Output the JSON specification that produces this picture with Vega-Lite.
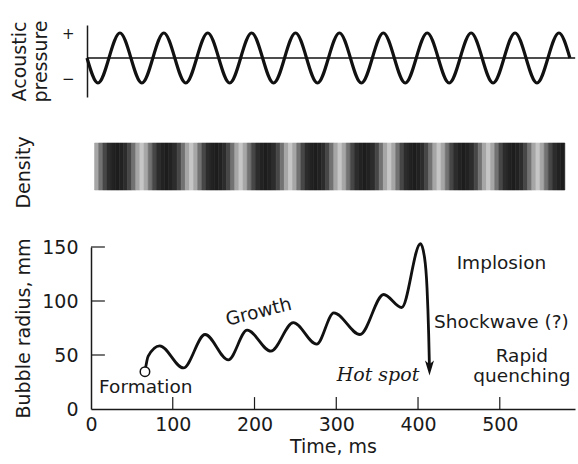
{
  "$schema": "https://vega.github.io/schema/vega-lite/v6.json",
  "background": "white",
  "padding": {"left": 10, "top": 19, "right": 0, "bottom": 0},
  "bounds": "flush",
  "spacing": 46,
  "config": {
    "view": {"stroke": null},
    "font": "DejaVu Sans",
    "axis": {
      "labelFont": "DejaVu Sans", "titleFont": "DejaVu Sans",
      "labelFontSize": 19, "titleFontSize": 19, "titleFontWeight": "normal",
      "labelColor": "#1a1a1a", "titleColor": "#1a1a1a",
      "domainColor": "#1a1a1a", "tickColor": "#1a1a1a", "grid": false
    }
  },
  "vconcat": [
    {
      "width": 484, "height": 72,
      "layer": [
        {
          "data": {"values": [
            {"t":0,"p":0},{"t":0.25,"p":-1},{"t":0.5,"p":0},{"t":0.75,"p":1},
            {"t":1,"p":0},{"t":1.25,"p":-1},{"t":1.5,"p":0},{"t":1.75,"p":1},
            {"t":2,"p":0},{"t":2.25,"p":-1},{"t":2.5,"p":0},{"t":2.75,"p":1},
            {"t":3,"p":0},{"t":3.25,"p":-1},{"t":3.5,"p":0},{"t":3.75,"p":1},
            {"t":4,"p":0},{"t":4.25,"p":-1},{"t":4.5,"p":0},{"t":4.75,"p":1},
            {"t":5,"p":0},{"t":5.25,"p":-1},{"t":5.5,"p":0},{"t":5.75,"p":1},
            {"t":6,"p":0},{"t":6.25,"p":-1},{"t":6.5,"p":0},{"t":6.75,"p":1},
            {"t":7,"p":0},{"t":7.25,"p":-1},{"t":7.5,"p":0},{"t":7.75,"p":1},
            {"t":8,"p":0},{"t":8.25,"p":-1},{"t":8.5,"p":0},{"t":8.75,"p":1},
            {"t":9,"p":0},{"t":9.25,"p":-1},{"t":9.5,"p":0},{"t":9.75,"p":1},
            {"t":10,"p":0},{"t":10.25,"p":-1},{"t":10.5,"p":0},{"t":10.75,"p":1},
            {"t":11,"p":0}
          ]},
          "mark": {"type": "line", "interpolate": "natural", "color": "#111", "strokeWidth": 3.2},
          "encoding": {
            "x": {"field": "t", "type": "quantitative", "scale": {"domain": [0.091, 11.116], "nice": false, "zero": false}, "axis": null},
            "y": {"field": "p", "type": "quantitative",
                  "scale": {"domain": [-1.56, 1.32], "nice": false, "zero": false},
                  "axis": {"title": ["Acoustic", "pressure"], "values": [1, -0.8],
                           "labelExpr": "datum.value > 0 ? '+' : '−'",
                           "labelFontSize": 15, "ticks": false, "offset": 4,
                           "labelPadding": 13, "domainWidth": 1.5, "titlePadding": 11, "titleLineHeight": 21}}
          }
        },
        {
          "data": {"values": [{"t0": 0, "t1": 11.12, "p": 0}]},
          "mark": {"type": "rule", "color": "#111", "strokeWidth": 1.3},
          "encoding": {
            "x": {"field": "t0", "type": "quantitative"},
            "x2": {"field": "t1"},
            "y": {"field": "p", "type": "quantitative"}
          }
        }
      ]
    },
    {
      "width": 484, "height": 58,
      "data": {"values": [
        {"s":-11.5,"e":-10.5,"d":0.32},{"s":-10.5,"e":-9.5,"d":0.52},{"s":-9.5,"e":-8.5,"d":0.7},{"s":-8.5,"e":-7.5,"d":0.82},
        {"s":-7.5,"e":-6.5,"d":0.87},{"s":-6.5,"e":-5.5,"d":0.89},{"s":-5.5,"e":-4.5,"d":0.87},{"s":-4.5,"e":-3.5,"d":0.82},
        {"s":-3.5,"e":-2.5,"d":0.7},{"s":-2.5,"e":-1.5,"d":0.52},{"s":-1.5,"e":-0.5,"d":0.32},
        {"s":-0.5,"e":0.5,"d":0.2},{"s":0.5,"e":1.5,"d":0.32},{"s":1.5,"e":2.5,"d":0.52},{"s":2.5,"e":3.5,"d":0.7},
        {"s":3.5,"e":4.5,"d":0.82},{"s":4.5,"e":5.5,"d":0.87},{"s":5.5,"e":6.5,"d":0.89},{"s":6.5,"e":7.5,"d":0.87},
        {"s":7.5,"e":8.5,"d":0.82},{"s":8.5,"e":9.5,"d":0.7},{"s":9.5,"e":10.5,"d":0.52},{"s":10.5,"e":11.5,"d":0.32},
        {"s":11.5,"e":12.5,"d":0.2},{"s":12.5,"e":13.5,"d":0.32},{"s":13.5,"e":14.5,"d":0.52},{"s":14.5,"e":15.5,"d":0.7},
        {"s":15.5,"e":16.5,"d":0.82},{"s":16.5,"e":17.5,"d":0.87},{"s":17.5,"e":18.5,"d":0.89},{"s":18.5,"e":19.5,"d":0.87},
        {"s":19.5,"e":20.5,"d":0.82},{"s":20.5,"e":21.5,"d":0.7},{"s":21.5,"e":22.5,"d":0.52},{"s":22.5,"e":23.5,"d":0.32},
        {"s":23.5,"e":24.5,"d":0.2},{"s":24.5,"e":25.5,"d":0.32},{"s":25.5,"e":26.5,"d":0.52},{"s":26.5,"e":27.5,"d":0.7},
        {"s":27.5,"e":28.5,"d":0.82},{"s":28.5,"e":29.5,"d":0.87},{"s":29.5,"e":30.5,"d":0.89},{"s":30.5,"e":31.5,"d":0.87},
        {"s":31.5,"e":32.5,"d":0.82},{"s":32.5,"e":33.5,"d":0.7},{"s":33.5,"e":34.5,"d":0.52},{"s":34.5,"e":35.5,"d":0.32},
        {"s":35.5,"e":36.5,"d":0.2},{"s":36.5,"e":37.5,"d":0.32},{"s":37.5,"e":38.5,"d":0.52},{"s":38.5,"e":39.5,"d":0.7},
        {"s":39.5,"e":40.5,"d":0.82},{"s":40.5,"e":41.5,"d":0.87},{"s":41.5,"e":42.5,"d":0.89},{"s":42.5,"e":43.5,"d":0.87},
        {"s":43.5,"e":44.5,"d":0.82},{"s":44.5,"e":45.5,"d":0.7},{"s":45.5,"e":46.5,"d":0.52},{"s":46.5,"e":47.5,"d":0.32},
        {"s":47.5,"e":48.5,"d":0.2},{"s":48.5,"e":49.5,"d":0.32},{"s":49.5,"e":50.5,"d":0.52},{"s":50.5,"e":51.5,"d":0.7},
        {"s":51.5,"e":52.5,"d":0.82},{"s":52.5,"e":53.5,"d":0.87},{"s":53.5,"e":54.5,"d":0.89},{"s":54.5,"e":55.5,"d":0.87},
        {"s":55.5,"e":56.5,"d":0.82},{"s":56.5,"e":57.5,"d":0.7},{"s":57.5,"e":58.5,"d":0.52},{"s":58.5,"e":59.5,"d":0.32},
        {"s":59.5,"e":60.5,"d":0.2},{"s":60.5,"e":61.5,"d":0.32},{"s":61.5,"e":62.5,"d":0.52},{"s":62.5,"e":63.5,"d":0.7},
        {"s":63.5,"e":64.5,"d":0.82},{"s":64.5,"e":65.5,"d":0.87},{"s":65.5,"e":66.5,"d":0.89},{"s":66.5,"e":67.5,"d":0.87},
        {"s":67.5,"e":68.5,"d":0.82},{"s":68.5,"e":69.5,"d":0.7},{"s":69.5,"e":70.5,"d":0.52},{"s":70.5,"e":71.5,"d":0.32},
        {"s":71.5,"e":72.5,"d":0.2},{"s":72.5,"e":73.5,"d":0.32},{"s":73.5,"e":74.5,"d":0.52},{"s":74.5,"e":75.5,"d":0.7},
        {"s":75.5,"e":76.5,"d":0.82},{"s":76.5,"e":77.5,"d":0.87},{"s":77.5,"e":78.5,"d":0.89},{"s":78.5,"e":79.5,"d":0.87},
        {"s":79.5,"e":80.5,"d":0.82},{"s":80.5,"e":81.5,"d":0.7},{"s":81.5,"e":82.5,"d":0.52},{"s":82.5,"e":83.5,"d":0.32},
        {"s":83.5,"e":84.5,"d":0.2},{"s":84.5,"e":85.5,"d":0.32},{"s":85.5,"e":86.5,"d":0.52},{"s":86.5,"e":87.5,"d":0.7},
        {"s":87.5,"e":88.5,"d":0.82},{"s":88.5,"e":89.5,"d":0.87},{"s":89.5,"e":90.5,"d":0.89},{"s":90.5,"e":91.5,"d":0.87},
        {"s":91.5,"e":92.5,"d":0.82},{"s":92.5,"e":93.5,"d":0.7},{"s":93.5,"e":94.5,"d":0.52},{"s":94.5,"e":95.5,"d":0.32},
        {"s":95.5,"e":96.5,"d":0.2},{"s":96.5,"e":97.5,"d":0.32},{"s":97.5,"e":98.5,"d":0.52},{"s":98.5,"e":99.5,"d":0.7},
        {"s":99.5,"e":100.5,"d":0.82},{"s":100.5,"e":101.5,"d":0.87},{"s":101.5,"e":102.5,"d":0.89}
      ]},
      "mark": {"type": "rect", "strokeWidth": 0.6},
      "encoding": {
        "x": {"field": "s", "type": "quantitative", "scale": {"domain": [-12.36, 104.97], "nice": false, "zero": false}, "axis": null},
        "x2": {"field": "e"},
        "y": {"datum": "band", "type": "nominal",
              "scale": {"paddingInner": 0, "paddingOuter": 0.117, "align": 0},
              "axis": {"title": "Density", "labels": false, "ticks": false, "domain": false, "titlePadding": 58}},
        "color": {"field": "d", "type": "quantitative", "scale": {"domain": [0, 1], "range": ["#ffffff", "#000000"]}, "legend": null},
        "stroke": {"field": "d", "type": "quantitative", "scale": {"domain": [0, 1], "range": ["#ffffff", "#000000"]}, "legend": null}
      }
    },
    {
      "width": 484, "height": 162,
      "layer": [
        {
          "data": {"values": [
            {"t":66,"r":34.5},{"t":70,"r":49},{"t":84,"r":58.5},{"t":113,"r":38},{"t":139.5,"r":69},
            {"t":168,"r":45.5},{"t":191,"r":73},{"t":220,"r":53.5},{"t":247.5,"r":80},{"t":276,"r":60},
            {"t":297,"r":89},{"t":329,"r":69},{"t":358,"r":106},{"t":380,"r":94},{"t":403,"r":153},
            {"t":408,"r":140},{"t":411,"r":112},{"t":413,"r":70},{"t":414,"r":38}
          ]},
          "mark": {"type": "line", "interpolate": "monotone", "color": "#111", "strokeWidth": 2.8},
          "encoding": {
            "x": {"field": "t", "type": "quantitative",
                  "scale": {"domain": [0, 592], "nice": false, "zero": false},
                  "axis": {"title": "Time, ms", "values": [0, 100, 200, 300, 400, 500], "tickSize": -12, "tickOpacity": 0,
                           "labelPadding": 18, "domainWidth": 1.5, "titlePadding": 3, "labelFlush": false}},
            "y": {"field": "r", "type": "quantitative",
                  "scale": {"domain": [0, 150], "nice": false, "zero": false},
                  "axis": {"title": "Bubble radius, mm", "values": [0, 50, 100, 150], "tickSize": -13, "tickOpacity": 0,
                           "labelPadding": 26, "domainWidth": 1.5, "titlePadding": 8, "labelFlush": false}}
          }
        },
        {
          "data": {"values": [
            {"t": 100, "r": 0, "r2": 11}, {"t": 200, "r": 0, "r2": 11}, {"t": 300, "r": 0, "r2": 11},
            {"t": 400, "r": 0, "r2": 11}, {"t": 500, "r": 0, "r2": 11}
          ]},
          "mark": {"type": "rule", "color": "#1a1a1a", "strokeWidth": 1.2},
          "encoding": {
            "x": {"field": "t", "type": "quantitative"},
            "y": {"field": "r", "type": "quantitative"},
            "y2": {"field": "r2"}
          }
        },
        {
          "data": {"values": [
            {"t": 0, "t2": 17, "r": 50}, {"t": 0, "t2": 17, "r": 100}, {"t": 0, "t2": 17, "r": 150}
          ]},
          "mark": {"type": "rule", "color": "#1a1a1a", "strokeWidth": 1.2},
          "encoding": {
            "x": {"field": "t", "type": "quantitative"},
            "x2": {"field": "t2"},
            "y": {"field": "r", "type": "quantitative"}
          }
        },
        {
          "data": {"values": [{"t": 66, "r": 34.5}]},
          "mark": {"type": "point", "shape": "circle", "filled": true, "fill": "white", "stroke": "#111", "strokeWidth": 1.5, "size": 90, "opacity": 1},
          "encoding": {
            "x": {"field": "t", "type": "quantitative"},
            "y": {"field": "r", "type": "quantitative"}
          }
        },
        {
          "data": {"values": [{"t": 414, "r": 31}]},
          "mark": {"type": "point", "shape": "M-0.6,-2L0,0L0.6,-2L0,-1.5Z", "filled": true, "color": "#111", "size": 225, "opacity": 1},
          "encoding": {
            "x": {"field": "t", "type": "quantitative"},
            "y": {"field": "r", "type": "quantitative"}
          }
        },
        {
          "data": {"values": [
            {"t": 67, "r": 15, "label": "Formation"},
            {"t": 502, "r": 130, "label": "Implosion"},
            {"t": 502, "r": 75.3, "label": "Shockwave (?)"},
            {"t": 527, "r": 43.5, "label": ["Rapid", "quenching"]}
          ]},
          "mark": {"type": "text", "font": "DejaVu Sans", "fontSize": 18.5, "color": "#1a1a1a", "align": "center", "baseline": "alphabetic", "lineHeight": 19.5},
          "encoding": {
            "x": {"field": "t", "type": "quantitative"},
            "y": {"field": "r", "type": "quantitative"},
            "text": {"field": "label"}
          }
        },
        {
          "data": {"values": [{"t": 205, "r": 90, "label": "Growth"}]},
          "mark": {"type": "text", "font": "DejaVu Sans", "fontSize": 18.5, "color": "#1a1a1a", "align": "center", "baseline": "middle", "angle": 346},
          "encoding": {
            "x": {"field": "t", "type": "quantitative"},
            "y": {"field": "r", "type": "quantitative"},
            "text": {"field": "label"}
          }
        },
        {
          "data": {"values": [{"t": 351, "r": 26, "label": "Hot spot"}]},
          "mark": {"type": "text", "font": "DejaVu Serif", "fontStyle": "italic", "fontSize": 19, "color": "#1a1a1a", "align": "center", "baseline": "alphabetic"},
          "encoding": {
            "x": {"field": "t", "type": "quantitative"},
            "y": {"field": "r", "type": "quantitative"},
            "text": {"field": "label"}
          }
        }
      ]
    }
  ]
}
